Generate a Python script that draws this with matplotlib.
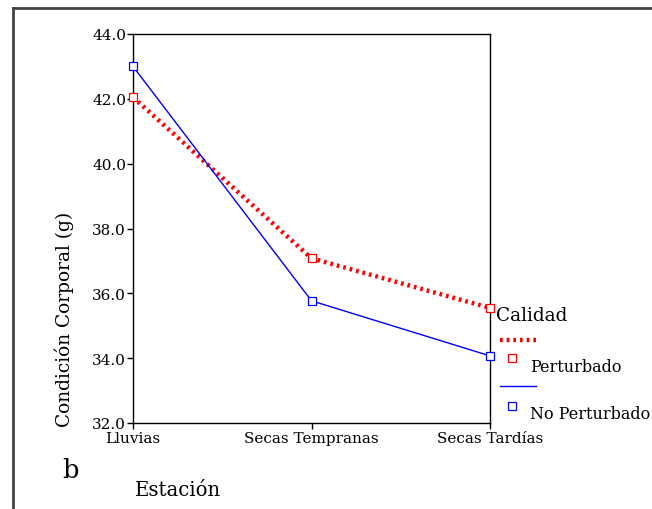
import matplotlib
matplotlib.use("Agg")
import matplotlib.pyplot as plt
from matplotlib.lines import Line2D

categories = ["Lluvias", "Secas Tempranas", "Secas Tardías"]
perturbado = [42.05, 37.08, 35.55]
no_perturbado = [43.0, 35.77, 34.07]
yticks = [32.0, 34.0, 36.0, 38.0, 40.0, 42.0, 44.0]

plt.rcParams['font.family'] = ['DejaVu Serif']

W, H = 652, 510
fig = plt.figure(figsize=(W/100, H/100), dpi=100)

def fx(px): return px / W
def fy(py): return 1 - py / H

ax = fig.add_axes([fx(133), fy(424), fx(490) - fx(133), fy(35) - fy(424)])
x = list(range(len(categories)))
ax.plot(x, perturbado, color='red', linestyle=(0, (0.6, 0.9)), linewidth=3.2,
        marker='s', markersize=6, markerfacecolor='white', markeredgecolor='red',
        markeredgewidth=0.9, zorder=3, clip_on=False)
ax.plot(x, no_perturbado, color='blue', linestyle='-', linewidth=1.0,
        marker='s', markersize=6, markerfacecolor='white', markeredgecolor='blue',
        markeredgewidth=0.9, zorder=4, clip_on=False)
ax.set_xlim(0, 2)
ax.set_ylim(32, 44)
ax.set_yticks(yticks)
ax.set_yticklabels([f"{v:.1f}" for v in yticks], fontsize=11)
ax.set_xticks(x)
ax.set_xticklabels(categories, fontsize=11)
ax.tick_params(axis='both', direction='out', length=4, width=1)
ax.tick_params(axis='x', pad=1.5)
ax.tick_params(axis='y', pad=1)
for s in ax.spines.values():
    s.set_linewidth(1.0)

fig.text(fx(64), fy(319), "Condición Corporal (g)", fontsize=13.4, rotation=90,
         va='center', ha='center')

# outer frame
fig.add_artist(Line2D([fx(13), fx(13)], [fy(9), 0], color='#444444', linewidth=2, transform=fig.transFigure))
fig.add_artist(Line2D([fx(13), 1], [fy(9), fy(9)], color='#444444', linewidth=2, transform=fig.transFigure))

# legend (manual)
fig.text(fx(496), fy(316), "Calidad", fontsize=13.3, va='center', ha='left')
fig.add_artist(Line2D([fx(500), fx(537)], [fy(341), fy(341)], color='red',
                      linestyle=(0, (0.6, 0.9)), linewidth=3.2, transform=fig.transFigure))
fig.add_artist(Line2D([fx(512)], [fy(359)], color='red', marker='s', markersize=6,
                      markerfacecolor='white', markeredgecolor='red', markeredgewidth=0.9,
                      linestyle='none', transform=fig.transFigure))
fig.text(fx(530), fy(367), "Perturbado", fontsize=11.5, va='center', ha='left')
fig.add_artist(Line2D([fx(500), fx(536)], [fy(387), fy(387)], color='blue',
                      linewidth=1.0, transform=fig.transFigure))
fig.add_artist(Line2D([fx(512)], [fy(407)], color='blue', marker='s', markersize=6,
                      markerfacecolor='white', markeredgecolor='blue', markeredgewidth=0.9,
                      linestyle='none', transform=fig.transFigure))
fig.text(fx(530), fy(415), "No Perturbado", fontsize=11.5, va='center', ha='left')

fig.text(fx(62), fy(471), "b", fontsize=18.5, va='center', ha='left')
fig.text(fx(135), fy(491), "Estación", fontsize=14.2, va='center', ha='left')

fig.savefig("out.png", dpi=100)
